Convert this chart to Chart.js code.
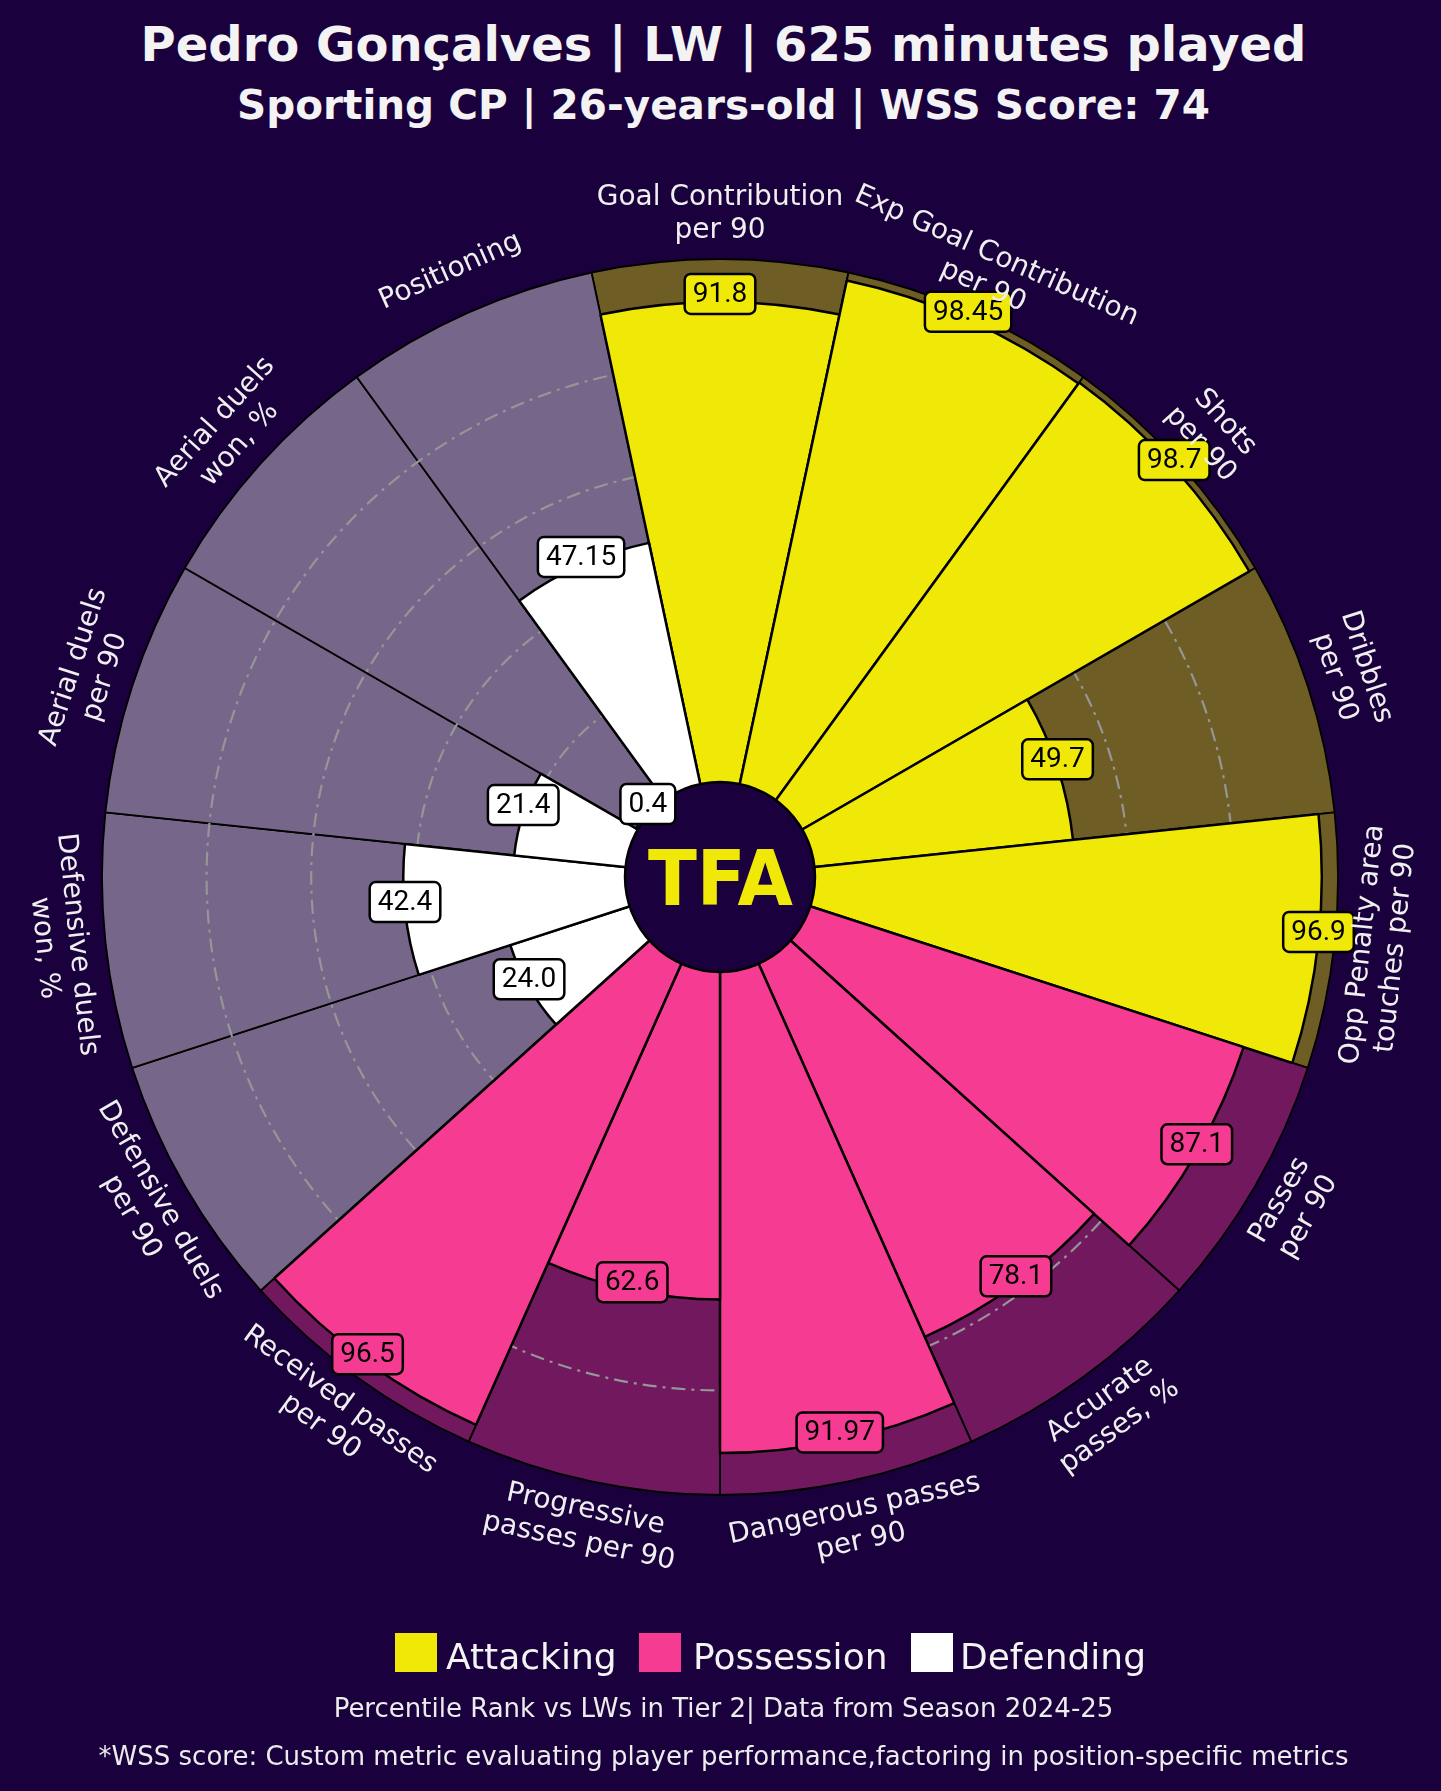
<!DOCTYPE html>
<html>
<head>
<meta charset="utf-8">
<script src="https://cdn.jsdelivr.net/npm/chart.js@4/dist/chart.umd.min.js"></script>
<style>
  html, body { margin: 0; padding: 0; background: #1a003d; }
  #wrap { position: relative; width: 1441px; height: 1791px; overflow: hidden; background: #1a003d;
          font-family: "DejaVu Sans", sans-serif; color: #f2f2f2; }
  canvas { position: absolute; left: 0; top: 0; }
  .ttl { position: absolute; left: 0; width: 1441px; text-align: center; font-weight: bold; color: #f3f3f3; white-space: nowrap; }
  .leg-sq { position: absolute; width: 42px; height: 39px; }
  .leg-tx { position: absolute; font-size: 36px; line-height: 36px; color: #f4f4f4; white-space: nowrap; }
  .foot { position: absolute; left: 0; width: 1441px; text-align: center; font-size: 26px; line-height: 26px; color: #ececec; white-space: nowrap; }
</style>
</head>
<body>
<div id="wrap">
  <div class="ttl" style="left:3px;top:20px;font-size:48px;line-height:48px;">Pedro Gonçalves | LW | 625 minutes played</div>
  <div class="ttl" style="left:3px;top:85px;font-size:40.5px;line-height:40px;">Sporting CP | 26-years-old | WSS Score: 74</div>
  <canvas id="bgChart" width="1441" height="1791"></canvas>
  <canvas id="fgChart" width="1441" height="1791"></canvas>
  <div class="leg-sq" style="left:395px;top:1633px;background:#f0e806;"></div>
  <div class="leg-tx" style="left:446px;top:1639px;">Attacking</div>
  <div class="leg-sq" style="left:639px;top:1633px;background:#f63c92;"></div>
  <div class="leg-tx" style="left:693px;top:1639px;">Possession</div>
  <div class="leg-sq" style="left:911px;top:1633px;background:#ffffff;"></div>
  <div class="leg-tx" style="left:960px;top:1639px;">Defending</div>
  <div class="foot" style="left:3px;top:1695px;">Percentile Rank vs LWs in Tier 2| Data from Season 2024-25</div>
  <div class="foot" style="left:3px;top:1743px;">*WSS score: Custom metric evaluating player performance,factoring in position-specific metrics</div>
</div>
<script>
// ---------------- DATA ----------------
const categories = [
  "Goal Contribution\nper 90",
  "Exp Goal Contribution\nper 90",
  "Shots\nper 90",
  "Dribbles\nper 90",
  "Opp Penalty area\ntouches per 90",
  "Passes\nper 90",
  "Accurate\npasses, %",
  "Dangerous passes\nper 90",
  "Progressive\npasses per 90",
  "Received passes\nper 90",
  "Defensive duels\nper 90",
  "Defensive duels\nwon, %",
  "Aerial duels\nper 90",
  "Aerial duels\nwon, %",
  "Positioning"
];
const percentiles = [91.8, 98.45, 98.7, 49.7, 96.9, 87.1, 78.1, 91.97, 62.6, 96.5, 24.0, 42.4, 21.4, 0.4, 47.15];
const valueLabels = ["91.8", "98.45", "98.7", "49.7", "96.9", "87.1", "78.1", "91.97", "62.6", "96.5", "24.0", "42.4", "21.4", "0.4", "47.15"];
const groups = ["Attacking", "Attacking", "Attacking", "Attacking", "Attacking",
                "Possession", "Possession", "Possession", "Possession", "Possession",
                "Defending", "Defending", "Defending", "Defending", "Defending"];
const maxValues = [100, 100, 100, 100, 100, 100, 100, 100, 100, 100, 100, 100, 100, 100, 100];
const gridTicks = [20, 40, 60, 80];

// ---------------- STYLE ----------------
const BG = "#1a003d";
const groupColor = { Attacking: "#f0e806", Possession: "#f63c92", Defending: "#ffffff" };
const groupBack = { Attacking: "rgba(240,232,6,0.4)", Possession: "rgba(246,60,146,0.4)", Defending: "rgba(255,255,255,0.4)" };

const SCALE_MIN = -18.16;
const layoutPadding = { left: 102, right: 103, top: 259, bottom: 296 };

function radialScale(showGrid) {
  return {
    r: {
      min: SCALE_MIN,
      max: 100,
      startAngle: -12,
      ticks: { display: false, stepSize: 20 },
      afterBuildTicks: (scale) => { scale.ticks = gridTicks.map(v => ({ value: v })); },
      angleLines: { display: false },
      pointLabels: { display: false },
      grid: {
        display: showGrid,
        circular: true,
        z: 1,
        lineWidth: 2.2,
        color: (c) => (c.tick && gridTicks.includes(Math.round(c.tick.value))) ? "rgba(150,150,150,1)" : "rgba(0,0,0,0)"
      },
      border: { dash: [14, 6, 3, 6] }
    }
  };
}

// Background chart: full-percentile slices + dash-dot grid on top of them
new Chart(document.getElementById("bgChart"), {
  type: "polarArea",
  data: {
    labels: categories,
    datasets: [{
      data: maxValues,
      backgroundColor: groups.map(g => groupBack[g]),
      borderColor: "#000000",
      borderWidth: 1.8
    }]
  },
  options: {
    responsive: false,
    devicePixelRatio: 1,
    animation: false,
    layout: { padding: layoutPadding },
    plugins: { legend: { display: false }, tooltip: { enabled: false } },
    scales: radialScale(true)
  }
});

function roundRect(ctx, x, y, w, h, r) {
  ctx.beginPath();
  ctx.moveTo(x + r, y);
  ctx.lineTo(x + w - r, y);
  ctx.arcTo(x + w, y, x + w, y + r, r);
  ctx.lineTo(x + w, y + h - r);
  ctx.arcTo(x + w, y + h, x + w - r, y + h, r);
  ctx.lineTo(x + r, y + h);
  ctx.arcTo(x, y + h, x, y + h - r, r);
  ctx.lineTo(x, y + r);
  ctx.arcTo(x, y, x + r, y, r);
  ctx.closePath();
}

const decorPlugin = {
  id: "decor",
  afterDatasetsDraw(chart) {
    const ctx = chart.ctx;
    const scale = chart.scales.r;
    const cx = scale.xCenter, cy = scale.yCenter;
    const meta = chart.getDatasetMeta(0);

    // centre disc with logo
    const r0 = scale.getDistanceFromCenterForValue(0);
    ctx.save();
    ctx.beginPath();
    ctx.arc(cx, cy, r0, 0, Math.PI * 2);
    ctx.fillStyle = BG;
    ctx.fill();
    ctx.lineWidth = 2.5;
    ctx.strokeStyle = "#000000";
    ctx.stroke();
    ctx.font = "bold 70px 'DejaVu Sans', sans-serif";
    ctx.fillStyle = "#f0e806";
    ctx.textAlign = "center";
    ctx.textBaseline = "alphabetic";
    const lw = ctx.measureText("TFA").width;
    ctx.translate(cx + 0.5, cy + 28);
    ctx.scale(145 / lw, 1.1);
    ctx.fillText("TFA", 0, 0);
    ctx.restore();

    // value labels
    ctx.save();
    ctx.font = "28px Roboto, sans-serif";
    ctx.textAlign = "center";
    ctx.textBaseline = "middle";
    meta.data.forEach((arc, i) => {
      const mid = (arc.startAngle + arc.endAngle) / 2;
      const x = cx + Math.cos(mid) * arc.outerRadius;
      const y = cy + Math.sin(mid) * arc.outerRadius - 8;
      const txt = valueLabels[i];
      const w = ctx.measureText(txt).width + 16;
      const h = 40;
      roundRect(ctx, x - w / 2, y - h / 2, w, h, 6);
      ctx.fillStyle = groupColor[groups[i]];
      ctx.fill();
      ctx.lineWidth = 2.5;
      ctx.strokeStyle = "#000000";
      ctx.stroke();
      ctx.fillStyle = "#000000";
      ctx.fillText(txt, x, y + 1);
    });
    ctx.restore();

    // category labels around the outside
    ctx.save();
    ctx.font = "28px 'DejaVu Sans', sans-serif";
    ctx.fillStyle = "#efefef";
    ctx.textAlign = "center";
    ctx.textBaseline = "middle";
    const rl = scale.getDistanceFromCenterForValue(100) + 45;
    const lineH = 33;
    meta.data.forEach((arc, i) => {
      const mid = (arc.startAngle + arc.endAngle) / 2;
      const x = cx + Math.cos(mid) * rl;
      const y = cy + Math.sin(mid) * rl;
      let bearing = (mid * 180 / Math.PI + 90) % 360;
      if (bearing < 0) bearing += 360;
      let rot = (bearing > 90 && bearing < 270) ? bearing - 180 : bearing;
      const lines = categories[i].split("\n");
      ctx.save();
      ctx.translate(x, y);
      ctx.rotate(rot * Math.PI / 180);
      lines.forEach((ln, k) => {
        ctx.fillText(ln, 0, (k - (lines.length - 1) / 2) * lineH);
      });
      ctx.restore();
    });
    ctx.restore();
  }
};

// Foreground chart: the player's percentiles
new Chart(document.getElementById("fgChart"), {
  type: "polarArea",
  data: {
    labels: categories,
    datasets: [{
      data: percentiles,
      backgroundColor: groups.map(g => groupColor[g]),
      borderColor: "#000000",
      borderWidth: 2.5
    }]
  },
  options: {
    responsive: false,
    devicePixelRatio: 1,
    animation: false,
    layout: { padding: layoutPadding },
    plugins: { legend: { display: false }, tooltip: { enabled: false } },
    scales: radialScale(false)
  },
  plugins: [decorPlugin]
});
</script>
</body>
</html>
